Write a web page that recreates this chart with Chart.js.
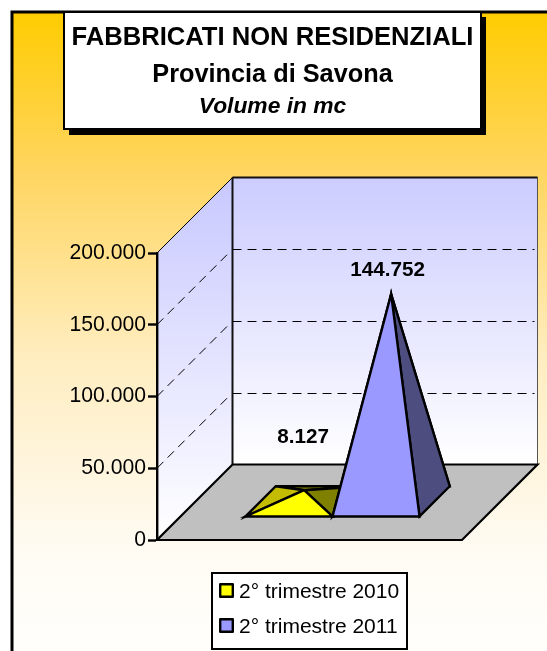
<!DOCTYPE html>
<html>
<head>
<meta charset="utf-8">
<style>html,body{margin:0;padding:0;background:#fff;overflow:hidden}canvas{display:block}</style>
<script src="https://cdn.jsdelivr.net/npm/chart.js@4"></script>
</head>
<body>
<canvas id="c" width="547" height="651"></canvas>
<script>
const categories = [''];
const seriesNames = ['2° trimestre 2010', '2° trimestre 2011'];
const values2010 = [8127];
const values2011 = [144752];
const titleLines = ['FABBRICATI NON RESIDENZIALI', 'Provincia di Savona', 'Volume in mc'];
const yTickValues = [0, 50000, 100000, 150000, 200000];

const FONT = '"Liberation Sans", Arial, sans-serif';
const fmt = v => String(Math.round(v)).replace(/\B(?=(\d{3})+(?!\d))/g, '.');

const view = {
  depth: 75.5, baseFrom: 0.305, baseTo: 0.705,
  labelLift: [47, 18], labelShift: [-1, -3.5],
  legendBox: {left: 212, top: 573, right: 407, bottom: 649},
  legendInset: {left: 210.5, top: 567.5},
};

function poly(ctx, pts, fill) {
  ctx.beginPath();
  pts.forEach((p, i) => i ? ctx.lineTo(p[0], p[1]) : ctx.moveTo(p[0], p[1]));
  ctx.closePath();
  if (fill) { ctx.fillStyle = fill; ctx.fill(); }
  ctx.stroke();
}

function swatch(color) {
  const c = document.createElement('canvas');
  c.width = 15; c.height = 18;
  const x = c.getContext('2d');
  x.fillStyle = color;
  x.strokeStyle = '#000';
  x.lineWidth = 2.4;
  x.lineJoin = 'round';
  x.fillRect(1, 1, 13, 13);
  x.strokeRect(1.2, 1.2, 12.6, 12.6);
  return c;
}

const scene = {
  id: 'scene',
  afterLayout(chart) {
    const b = view.legendBox, i = view.legendInset, l = chart.legend;
    l.left = i.left; l.top = i.top; l.right = b.right + 40; l.bottom = chart.height + 60;
    l.width = l.right - l.left; l.height = l.bottom - l.top;
  },
  beforeDraw(chart) {
    const {ctx, width, height, chartArea: a, scales: {y}} = chart;
    const d = view.depth;
    ctx.save();
    ctx.fillStyle = '#fff';
    ctx.fillRect(0, 0, width, height);
    // frame
    const g = ctx.createLinearGradient(0, 12, 0, 640);
    g.addColorStop(0, '#FFCC00');
    g.addColorStop(0.25, '#FFD55F');
    g.addColorStop(0.55, '#FFEDC0');
    g.addColorStop(0.85, '#FFFBF2');
    g.addColorStop(1, '#FFFEFB');
    ctx.fillStyle = g;
    ctx.strokeStyle = '#000';
    ctx.lineWidth = 3;
    ctx.fillRect(12, 12, width, height);
    ctx.strokeRect(12, 12, width + 20, height + 20);

    // title box
    ctx.fillStyle = '#000';
    ctx.fillRect(69, 17, 417, 118);
    ctx.fillStyle = '#fff';
    ctx.lineWidth = 2;
    ctx.fillRect(64, 12, 417, 117);
    ctx.strokeRect(64, 12, 417, 117);
    ctx.fillStyle = '#000';
    ctx.textAlign = 'center';
    ctx.textBaseline = 'alphabetic';
    ctx.font = 'bold 25.6px ' + FONT;
    ctx.fillText(titleLines[0], 272.5, 45);
    ctx.font = 'bold 25.3px ' + FONT;
    ctx.fillText(titleLines[1], 272.5, 82);
    ctx.font = 'italic bold 22.8px ' + FONT;
    ctx.fillText(titleLines[2], 272.5, 113);

    // walls
    const zero = y.getPixelForValue(0), top = y.getPixelForValue(200000);
    const gw = ctx.createLinearGradient(0, top - d, 0, zero - d);
    gw.addColorStop(0, '#CCCCFF'); gw.addColorStop(1, '#FFFFFF');
    ctx.lineWidth = 1;
    ctx.strokeStyle = '#555';
    poly(ctx, [[a.left + d, top - d], [a.right + d, top - d], [a.right + d, zero - d], [a.left + d, zero - d]], gw);
    const gl = ctx.createLinearGradient(0, top - d, 0, zero);
    gl.addColorStop(0, '#C8C8FF'); gl.addColorStop(1, '#FFFFFF');
    ctx.beginPath();
    ctx.moveTo(a.left, zero); ctx.lineTo(a.left, top); ctx.lineTo(a.left + d, top - d); ctx.lineTo(a.left + d, zero - d); ctx.closePath();
    ctx.fillStyle = gl; ctx.fill();
    ctx.strokeStyle = '#000';
    ctx.beginPath(); ctx.moveTo(a.left, top); ctx.lineTo(a.left + d, top - d); ctx.stroke();

    // wall grid lines from the value scale
    ctx.lineWidth = 1;
    ctx.strokeStyle = '#000';
    yTickValues.slice(1, -1).forEach(v => {
      const py = y.getPixelForValue(v);
      const by = Math.round(py - d) + 0.5;
      ctx.setLineDash([9, 6]);
      ctx.beginPath(); ctx.moveTo(a.left + d, by); ctx.lineTo(a.right + d - 3, by); ctx.stroke();
      ctx.beginPath(); ctx.moveTo(a.left, py); ctx.lineTo(a.left + d - 4, py - d + 4); ctx.stroke();
    });
    ctx.setLineDash([]);
    ctx.lineWidth = 2;
    ctx.strokeStyle = '#111';
    ctx.beginPath(); ctx.moveTo(a.left + d, top - d); ctx.lineTo(a.left + d, zero - d); ctx.stroke();
    ctx.beginPath(); ctx.moveTo(a.left + d, top - d); ctx.lineTo(a.right + d, top - d); ctx.stroke();

    // floor
    ctx.lineWidth = 2.2;
    ctx.strokeStyle = '#000';
    poly(ctx, [[a.left, zero], [a.right, zero], [a.right + d, zero - d], [a.left + d, zero - d]], '#C0C0C0');

    // legend box
    const b = view.legendBox;
    ctx.fillStyle = '#fff';
    ctx.lineWidth = 2;
    ctx.fillRect(b.left, b.top, b.right - b.left, b.bottom - b.top);
    ctx.strokeRect(b.left, b.top, b.right - b.left, b.bottom - b.top);
    ctx.restore();
  },
  beforeDatasetsDraw(chart) {
    const {ctx} = chart;
    const d = view.depth;
    ctx.save();
    ctx.lineJoin = 'miter';
    ctx.lineWidth = 2.4;
    ctx.strokeStyle = '#000';
    chart.data.datasets.forEach((ds, i) => {
      const bar = chart.getDatasetMeta(i).data[0];
      const hw = bar.width / 2, z = bar.base;
      const at = (x, dep) => [x + d * dep, z - d * dep];
      const fl = at(bar.x - hw, view.baseFrom), fr = at(bar.x + hw, view.baseFrom);
      const br = at(bar.x + hw, view.baseTo), bl = at(bar.x - hw, view.baseTo);
      const mid = (view.baseFrom + view.baseTo) / 2;
      const apex = [bar.x + d * mid, bar.y - d * mid];
      poly(ctx, [bl, br, apex], ds.shades[2]);
      poly(ctx, [fl, bl, apex], ds.shades[1]);
      poly(ctx, [fr, br, apex], ds.shades[2]);
      poly(ctx, [fl, fr, apex], ds.shades[0]);
    });
    ctx.fillStyle = '#000';
    ctx.textAlign = 'center';
    ctx.textBaseline = 'alphabetic';
    ctx.font = 'bold 20.7px ' + FONT;
    chart.data.datasets.forEach((ds, i) => {
      const bar = chart.getDatasetMeta(i).data[0];
      const mid = (view.baseFrom + view.baseTo) / 2;
      ctx.fillText(fmt(ds.data[0]), bar.x + d * mid + view.labelShift[i], bar.y - d * mid - view.labelLift[i]);
    });
    ctx.restore();
    return false;
  }
};

new Chart(document.getElementById('c'), {
  type: 'bar',
  data: {
    labels: categories,
    datasets: [
      {label: seriesNames[0], data: values2010, backgroundColor: '#FFFF00', shades: ['#FFFF00', '#C4BC00', '#808000'], barThickness: 87},
      {label: seriesNames[1], data: values2011, backgroundColor: '#9999FF', shades: ['#9999FF', '#7373BF', '#4D4D80'], barThickness: 87},
    ],
  },
  options: {
    responsive: false,
    animation: false,
    layout: {padding: {left: 17, top: 253, right: 85, bottom: 111}},
    plugins: {
      title: {display: false},
      tooltip: {enabled: false},
      legend: {
        display: true,
        position: 'chartArea',
        align: 'start',
        labels: {
          font: {family: FONT, size: 21},
          color: '#000',
          usePointStyle: true,
          boxWidth: 4, boxHeight: 11,
          padding: 14,
          generateLabels: chart => chart.data.datasets.map((ds, i) => ({
            text: ds.label, fillStyle: ds.backgroundColor, strokeStyle: '#000', lineWidth: 2, datasetIndex: i,
            pointStyle: swatch(ds.backgroundColor),
          })),
        },
      },
    },
    scales: {
      x: {display: false, stacked: false},
      y: {
        min: 0, max: 200000,
        afterFit(s) { s.width = 140; },
        afterBuildTicks(s) { s.ticks = yTickValues.map(v => ({value: v})); },
        grid: {drawOnChartArea: false, drawTicks: true, tickLength: 9, tickWidth: 2.4, tickColor: '#000'},
        border: {display: true, color: '#000', width: 2.4},
        ticks: {
          padding: 2,
          color: '#000',
          font: {family: FONT, size: 21.2},
          callback: v => fmt(v),
        },
      },
    },
  },
  plugins: [scene],
});
</script>
</body>
</html>
